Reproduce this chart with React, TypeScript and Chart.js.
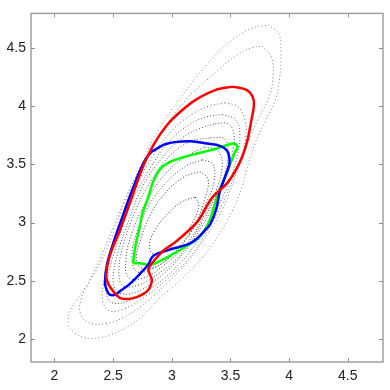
import React, { useEffect, useRef } from "react";
import { Chart, registerables } from "chart.js";
Chart.register(...registerables);

const xTicks = [2, 2.5, 3, 3.5, 4, 4.5];
const yTicks = [2, 2.5, 3, 3.5, 4, 4.5];

const redX = [3.52, 3.64, 3.69, 3.70, 3.68, 3.64, 3.58, 3.48, 3.34, 3.22, 3.04, 2.93, 2.83, 2.80, 2.81, 2.83, 2.79, 2.67, 2.56, 2.50, 2.46, 2.44, 2.47, 2.56, 2.66, 2.75, 2.85, 2.96, 3.08, 3.21, 3.37, 3.52];
const redY = [4.17, 4.14, 4.08, 4.01, 3.89, 3.69, 3.52, 3.35, 3.21, 3.01, 2.84, 2.76, 2.65, 2.60, 2.56, 2.50, 2.41, 2.35, 2.35, 2.41, 2.47, 2.54, 2.71, 2.94, 3.22, 3.47, 3.68, 3.84, 3.96, 4.06, 4.14, 4.17];

const blueX = [2.93, 3.01, 3.16, 3.30, 3.41, 3.47, 3.49, 3.49, 3.46, 3.41, 3.38, 3.33, 3.28, 3.20, 3.13, 2.99, 2.87, 2.83, 2.80, 2.73, 2.64, 2.56, 2.52, 2.47, 2.45, 2.43, 2.45, 2.52, 2.58, 2.64, 2.69, 2.73, 2.78, 2.83, 2.88, 2.93];
const blueY = [3.67, 3.69, 3.70, 3.68, 3.66, 3.62, 3.56, 3.50, 3.41, 3.27, 3.12, 2.99, 2.93, 2.85, 2.81, 2.77, 2.73, 2.70, 2.64, 2.56, 2.47, 2.41, 2.38, 2.38, 2.41, 2.48, 2.65, 2.88, 3.05, 3.22, 3.35, 3.45, 3.55, 3.61, 3.64, 3.67];

const greenX = [2.67, 2.69, 2.72, 2.75, 2.80, 2.84, 2.90, 2.98, 3.09, 3.20, 3.28, 3.39, 3.48, 3.53, 3.56, 3.54, 3.50, 3.45, 3.39, 3.35, 3.30, 3.23, 3.13, 3.01, 2.90, 2.83, 2.78, 2.73, 2.67];
const greenY = [2.65, 2.80, 2.93, 3.08, 3.22, 3.35, 3.46, 3.52, 3.56, 3.59, 3.61, 3.64, 3.67, 3.68, 3.65, 3.61, 3.51, 3.38, 3.24, 3.10, 2.97, 2.87, 2.80, 2.73, 2.67, 2.64, 2.64, 2.65, 2.65];

const c1X = [3.82, 3.91, 3.93, 3.92, 3.88, 3.79, 3.71, 3.65, 3.60, 3.52, 3.41, 3.27, 3.09, 2.90, 2.73, 2.56, 2.39, 2.26, 2.16, 2.12, 2.13, 2.20, 2.29, 2.39, 2.49, 2.60, 2.73, 2.90, 3.14, 3.37, 3.54, 3.68, 3.82];
const c1Y = [4.70, 4.63, 4.46, 4.25, 4.05, 3.86, 3.68, 3.50, 3.31, 3.11, 2.91, 2.71, 2.52, 2.35, 2.18, 2.07, 2.01, 2.01, 2.06, 2.12, 2.23, 2.35, 2.48, 2.65, 2.88, 3.18, 3.48, 3.82, 4.16, 4.44, 4.59, 4.67, 4.70];

const c2X = [3.77, 3.85, 3.86, 3.82, 3.73, 3.65, 3.58, 3.51, 3.43, 3.31, 3.16, 2.98, 2.80, 2.60, 2.43, 2.29, 2.22, 2.23, 2.30, 2.39, 2.49, 2.60, 2.75, 2.92, 3.14, 3.26, 3.39, 3.54, 3.67, 3.77];
const c2Y = [4.52, 4.42, 4.22, 4.06, 3.88, 3.69, 3.50, 3.31, 3.11, 2.91, 2.69, 2.50, 2.33, 2.19, 2.13, 2.14, 2.22, 2.35, 2.50, 2.69, 2.93, 3.20, 3.50, 3.79, 4.08, 4.19, 4.31, 4.43, 4.50, 4.52];

const c3X = [3.45, 3.56, 3.62, 3.63, 3.59, 3.52, 3.43, 3.31, 3.16, 2.97, 2.77, 2.60, 2.47, 2.41, 2.42, 2.47, 2.56, 2.68, 2.83, 3.00, 3.17, 3.31, 3.45];
const c3Y = [4.03, 4.00, 3.90, 3.73, 3.56, 3.37, 3.16, 2.94, 2.71, 2.52, 2.36, 2.26, 2.24, 2.33, 2.48, 2.69, 2.94, 3.27, 3.56, 3.79, 3.93, 4.00, 4.03];

const c3bX = [3.43, 3.55, 3.58, 3.55, 3.48, 3.38, 3.24, 3.07, 2.86, 2.64, 2.49, 2.44, 2.47, 2.54, 2.64, 2.80, 2.97, 3.16, 3.30, 3.43];
const c3bY = [3.93, 3.88, 3.73, 3.54, 3.33, 3.11, 2.87, 2.65, 2.46, 2.33, 2.31, 2.41, 2.60, 2.84, 3.14, 3.44, 3.69, 3.85, 3.91, 3.93];

const c4X = [3.37, 3.48, 3.53, 3.52, 3.46, 3.37, 3.24, 3.07, 2.88, 2.69, 2.54, 2.50, 2.54, 2.63, 2.75, 2.92, 3.09, 3.24, 3.37];
const c4Y = [3.85, 3.85, 3.76, 3.61, 3.39, 3.18, 2.94, 2.70, 2.52, 2.40, 2.40, 2.52, 2.74, 3.01, 3.31, 3.56, 3.73, 3.81, 3.85];

const c4bX = [3.33, 3.45, 3.48, 3.45, 3.36, 3.24, 3.09, 2.90, 2.71, 2.58, 2.55, 2.59, 2.69, 2.83, 3.00, 3.17, 3.33];
const c4bY = [3.73, 3.72, 3.61, 3.42, 3.20, 2.97, 2.74, 2.57, 2.46, 2.46, 2.60, 2.82, 3.10, 3.37, 3.59, 3.70, 3.73];

const c5X = [3.28, 3.39, 3.43, 3.38, 3.27, 3.12, 2.93, 2.75, 2.63, 2.61, 2.66, 2.77, 2.92, 3.09, 3.28];
const c5Y = [3.65, 3.62, 3.50, 3.28, 3.05, 2.81, 2.63, 2.52, 2.53, 2.69, 2.91, 3.16, 3.39, 3.55, 3.65];

const c5bX = [3.26, 3.35, 3.36, 3.28, 3.16, 3.00, 2.83, 2.70, 2.66, 2.70, 2.80, 2.94, 3.11, 3.26];
const c5bY = [3.54, 3.50, 3.35, 3.14, 2.91, 2.72, 2.60, 2.58, 2.71, 2.91, 3.14, 3.33, 3.48, 3.54];

const c6X = [3.24, 3.31, 3.28, 3.20, 3.07, 2.92, 2.77, 2.70, 2.73, 2.81, 2.94, 3.10, 3.24];
const c6Y = [3.44, 3.37, 3.20, 2.99, 2.80, 2.65, 2.60, 2.67, 2.84, 3.05, 3.25, 3.39, 3.44];

const c7X = [3.20, 3.23, 3.17, 3.07, 2.95, 2.84, 2.81, 2.86, 2.97, 3.09, 3.20];
const c7Y = [3.22, 3.14, 2.99, 2.86, 2.75, 2.73, 2.81, 2.94, 3.08, 3.18, 3.22];

const zip = (xs: number[], ys: number[]) => xs.map((x, i) => ({ x, y: ys[i] }));

const framePlugin = {
  id: "frame",
  afterDatasetsDraw(chart: any) {
    const { ctx, chartArea: a, scales } = chart;
    ctx.save();
    ctx.strokeStyle = "#a0a0a0";
    ctx.lineWidth = 1.5;
    ctx.strokeRect(a.left, a.top, a.right - a.left, a.bottom - a.top);
    ctx.lineWidth = 1;
    ctx.strokeStyle = "#909090";
    const tl = 4;
    ctx.beginPath();
    xTicks.forEach((v) => {
      const p = Math.round(scales.x.getPixelForValue(v)) + 0.5;
      ctx.moveTo(p, a.bottom);
      ctx.lineTo(p, a.bottom - tl);
      ctx.moveTo(p, a.top);
      ctx.lineTo(p, a.top + tl);
    });
    yTicks.forEach((v) => {
      const p = Math.round(scales.y.getPixelForValue(v)) + 0.5;
      ctx.moveTo(a.left, p);
      ctx.lineTo(a.left + tl, p);
      ctx.moveTo(a.right, p);
      ctx.lineTo(a.right - tl, p);
    });
    ctx.stroke();
    ctx.restore();
  },
};

export default function App() {
  const ref = useRef<HTMLCanvasElement | null>(null);
  useEffect(() => {
    if (!ref.current) return;
    const dotted = (xs: number[], ys: number[], color: string, order: number, gap = 2.5) => ({
      data: zip(xs, ys),
      showLine: true,
      borderColor: color,
      borderWidth: 1,
      borderDash: [1, gap],
      pointRadius: 0,
      tension: 0.4,
      fill: false,
      order,
    });
    const solid = (xs: number[], ys: number[], color: string, order: number) => ({
      data: zip(xs, ys),
      showLine: true,
      borderColor: color,
      borderWidth: 2.5,
      pointRadius: 0,
      tension: 0.35,
      fill: false,
      order,
    });
    const tickFont = { family: "'Liberation Sans', Arial, sans-serif", size: 14 };
    const chart = new Chart(ref.current, {
      type: "scatter",
      data: {
        datasets: [
          solid(redX, redY, "#ff0000", 0),
          solid(blueX, blueY, "#0000ff", 1),
          solid(greenX, greenY, "#00ff00", 2),
          dotted(c1X, c1Y, "#8a8a8a", 10),
          dotted(c2X, c2Y, "#7a7a7a", 11),
          dotted(c3X, c3Y, "#666", 12),
          dotted(c3bX, c3bY, "#606060", 13, 2),
          dotted(c4X, c4Y, "#555", 14, 2),
          dotted(c4bX, c4bY, "#505050", 15, 2),
          dotted(c5X, c5Y, "#444", 16, 2),
          dotted(c5bX, c5bY, "#444", 17, 2),
          dotted(c6X, c6Y, "#3a3a3a", 18, 2),
          dotted(c7X, c7Y, "#333", 19, 2),
        ] as any,
      },
      options: {
        animation: false,
        responsive: false,
        layout: { padding: { top: 10, right: 7, left: 0, bottom: 0 } },
        plugins: { legend: { display: false }, tooltip: { enabled: false } },
        scales: {
          x: {
            type: "linear",
            min: 1.8,
            max: 4.8,
            afterBuildTicks: (s: any) => {
              s.ticks = xTicks.map((v) => ({ value: v }));
            },
            afterFit: (s: any) => {
              s.height = 28;
            },
            grid: { display: false, drawTicks: false },
            border: { display: false },
            ticks: {
              font: tickFont,
              color: "#222",
              padding: 6,
              maxRotation: 0,
              autoSkip: false,
              callback: (v: any) => String(v),
            },
          },
          y: {
            type: "linear",
            min: 1.8,
            max: 4.8,
            afterBuildTicks: (s: any) => {
              s.ticks = yTicks.map((v) => ({ value: v }));
            },
            afterFit: (s: any) => {
              s.width = 31;
            },
            grid: { display: false, drawTicks: false },
            border: { display: false },
            ticks: {
              font: tickFont,
              color: "#222",
              padding: 5,
              autoSkip: false,
              callback: (v: any) => String(v),
            },
          },
        },
      } as any,
      plugins: [framePlugin],
    });
    return () => chart.destroy();
  }, []);
  return (
    <div style={{ position: "fixed", left: 0, top: 0, width: 390, height: 390, background: "#fff" }}>
      <canvas ref={ref} width={390} height={390} />
    </div>
  );
}
